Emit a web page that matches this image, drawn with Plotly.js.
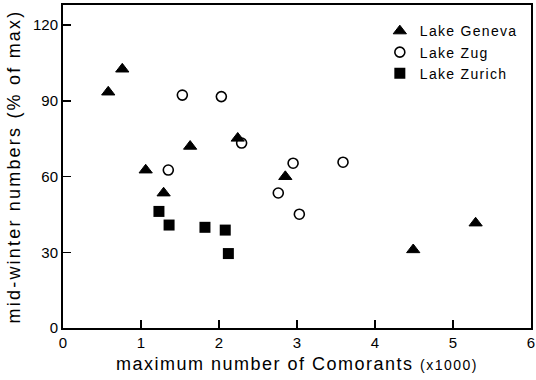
<!DOCTYPE html>
<html>
<head>
<meta charset="utf-8">
<script src="https://cdn.plot.ly/plotly-3.0.1.min.js"></script>
<style>
  html, body { margin: 0; padding: 0; background: #fff; }
  #chart { width: 536px; height: 380px; }
  .xtitle { letter-spacing: 1.5px; }
  .ytitle { letter-spacing: 2.2px; }
  .legendtext { letter-spacing: 1.3px; }
</style>
</head>
<body>
<div id="chart"></div>
<script>
// Lake Geneva (filled triangles)
const genevaX = [0.58, 0.76, 1.06, 1.29, 1.63, 2.24, 2.85, 4.49, 5.29];
const genevaY = [93.5, 102.6, 62.6, 53.5, 72.0, 75.2, 60.0, 31.0, 41.6];
// Lake Zug (open circles)
const zugX = [1.53, 2.03, 1.35, 2.29, 2.76, 2.95, 3.03, 3.59];
const zugY = [92.3, 91.7, 62.6, 73.3, 53.5, 65.3, 45.1, 65.7];
// Lake Zurich (filled squares)
const zurichX = [1.23, 1.36, 1.82, 2.08, 2.12];
const zurichY = [46.2, 40.8, 39.9, 38.8, 29.5];

const seriesNames = ["Lake Geneva", "Lake Zug", "Lake Zurich"];
const xTicks = [0, 1, 2, 3, 4, 5, 6];
const yTicks = [0, 30, 60, 90, 120];

const FONT = "Liberation Sans, Arial, Helvetica, sans-serif";

const traces = [
  {
    x: genevaX, y: genevaY, name: seriesNames[0], type: "scatter", mode: "markers",
    marker: { symbol: "triangle-up", size: 11.5, color: "#000", line: { color: "#000", width: 1 } }
  },
  {
    x: zugX, y: zugY, name: seriesNames[1], type: "scatter", mode: "markers",
    marker: { symbol: "circle-open", size: 10, color: "#000", line: { color: "#000", width: 1.6 } }
  },
  {
    x: zurichX, y: zurichY, name: seriesNames[2], type: "scatter", mode: "markers",
    marker: { symbol: "square", size: 11, color: "#000", line: { width: 0 } }
  }
];

const layout = {
  width: 536, height: 380,
  margin: { l: 63, r: 5, t: 5, b: 52 },
  paper_bgcolor: "#fff", plot_bgcolor: "#fff",
  font: { family: FONT, color: "#000", size: 15 },
  showlegend: true,
  legend: {
    x: 0.677, y: 0.968, xanchor: "left", yanchor: "top",
    bgcolor: "rgba(0,0,0,0)", borderwidth: 0,
    font: { family: FONT, size: 14, color: "#000" },
    itemclick: false
  },
  xaxis: {
    range: [0, 6], tickvals: xTicks, ticktext: xTicks.map(String),
    ticks: "inside", ticklen: 8, tickwidth: 1.5, tickcolor: "#000",
    showline: true, linecolor: "#000", linewidth: 2, mirror: true,
    showgrid: false, zeroline: false,
    tickfont: { family: FONT, size: 15, color: "#000" },
    title: {
      text: "maximum number of Comorants <span style='font-size:14px'>(x1000)</span>",
      font: { family: FONT, size: 18, color: "#000" }, standoff: 7
    }
  },
  yaxis: {
    range: [0, 128], tickvals: yTicks, ticktext: yTicks.map(String),
    ticks: "inside", ticklen: 8, tickwidth: 1.5, tickcolor: "#000",
    showline: true, linecolor: "#000", linewidth: 2, mirror: true,
    showgrid: false, zeroline: false,
    tickfont: { family: FONT, size: 15, color: "#000" },
    title: {
      text: "mid-winter numbers (% of max)",
      font: { family: FONT, size: 18, color: "#000" }, standoff: 8
    }
  }
};

Plotly.newPlot("chart", traces, layout, { staticPlot: true, displayModeBar: false });
</script>
</body>
</html>
